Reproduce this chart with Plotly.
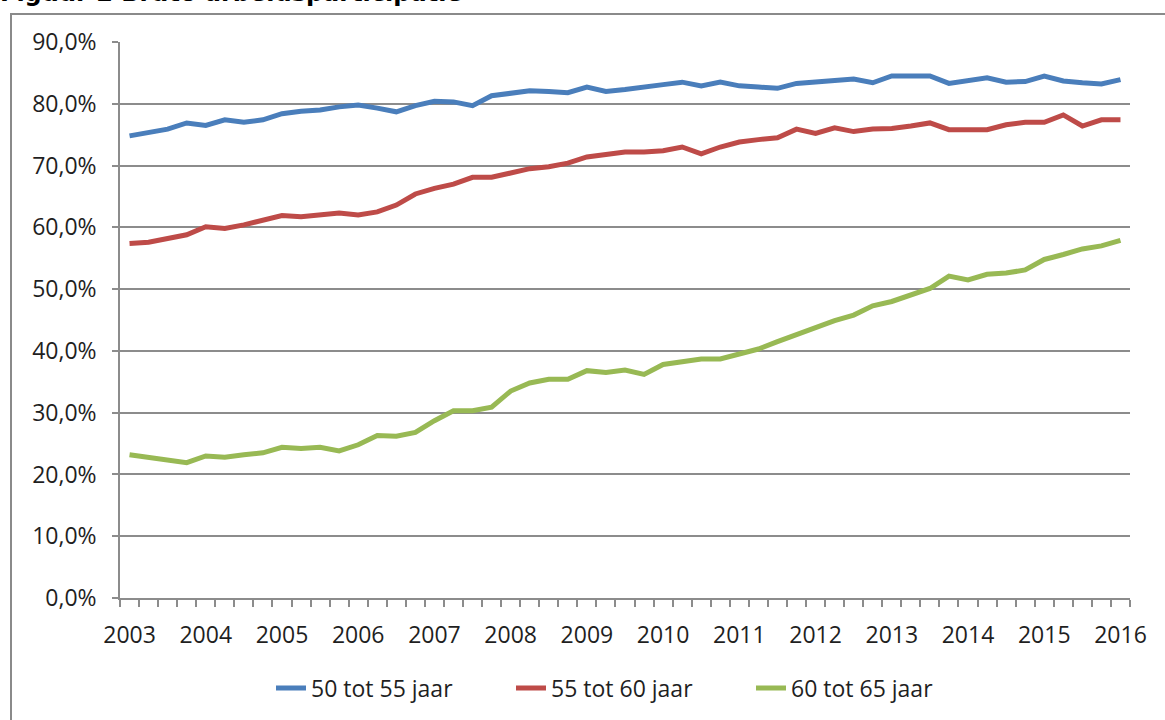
import plotly.graph_objects as go

# Quarterly observations 2003 Q1 .. 2016 Q1
years = list(range(2003, 2017))
quarter_x = [y + (q - 1) / 4 for y in years for q in range(1, 5)][:53]
year_ticks = years
year_labels = [str(y) for y in years]

series_names = ["50 tot 55 jaar", "55 tot 60 jaar", "60 tot 65 jaar"]

age_50_55 = [74.8, 75.3, 75.9, 76.9, 76.5, 77.4, 77.0, 77.4, 78.4, 78.8, 79.0, 79.5, 79.8,
             79.3, 78.7, 79.7, 80.4, 80.3, 79.7, 81.3, 81.6, 82.1, 82.0, 81.8, 82.7, 82.0,
             82.3, 82.8, 83.1, 83.5, 82.9, 83.5, 82.9, 82.7, 82.5, 83.3, 83.5, 83.8, 84.0,
             83.4, 84.5, 84.5, 84.5, 83.3, 83.8, 84.2, 83.5, 83.6, 84.5, 83.7, 83.4, 83.2,
             83.9]
age_55_60 = [57.4, 57.6, 58.2, 58.8, 60.1, 59.8, 60.4, 61.2, 61.9, 61.7, 62.1, 62.3, 62.0,
             62.5, 63.6, 65.4, 66.3, 67.0, 68.1, 68.1, 68.8, 69.5, 69.8, 70.4, 71.4, 71.9,
             72.2, 72.2, 72.4, 73.0, 71.9, 73.0, 73.8, 74.2, 74.5, 75.9, 75.2, 76.1, 75.5,
             75.9, 76.0, 76.4, 76.9, 75.8, 75.8, 75.8, 76.6, 77.0, 77.0, 78.2, 76.4, 77.4,
             77.4]
age_60_65 = [23.2, 22.8, 22.2, 21.9, 23.0, 22.8, 23.2, 23.5, 24.4, 24.2, 24.4, 23.8, 24.8,
             26.3, 26.2, 26.8, 28.7, 30.3, 30.3, 30.9, 33.5, 34.8, 35.4, 35.4, 36.8, 36.5,
             36.9, 36.2, 37.8, 38.3, 38.7, 38.7, 39.6, 40.3, 41.5, 42.7, 43.9, 44.9, 45.8,
             47.3, 48.0, 49.1, 50.1, 52.1, 51.5, 52.4, 52.6, 53.1, 54.8, 55.6, 56.5, 57.0,
             57.9]

colors = ["#4A7EBB", "#BE4B48", "#98B954"]
y_ticks = [0, 10, 20, 30, 40, 50, 60, 70, 80, 90]
y_labels = ["0,0%", "10,0%", "20,0%", "30,0%", "40,0%", "50,0%", "60,0%", "70,0%",
            "80,0%", "90,0%"]

FONT = "Open Sans"
FS = 23
TXT = "#1f1f1f"
GRID = "#8C8C8C"

fig = go.Figure()
for name, vals, col in zip(series_names, [age_50_55, age_55_60, age_60_65], colors):
    fig.add_trace(go.Scatter(x=quarter_x, y=vals, name=name, mode="lines",
                             line=dict(color=col, width=5)))

W, H = 1165, 720
L, R, T, B = 120, 35, 42, 122
pw = W - L - R
ph = H - T - B

def px_x(p):
    return (p - L) / pw

def px_y(p):
    return (H - B - p) / ph

fig.update_layout(
    width=W, height=H,
    margin=dict(l=L, r=R, t=T, b=B, autoexpand=False),
    paper_bgcolor="white", plot_bgcolor="white",
    font=dict(family=FONT, size=FS, color=TXT),
    showlegend=True,
    legend=dict(orientation="h", x=px_x(271), xanchor="left",
                y=px_y(688), yanchor="middle",
                font=dict(family=FONT, size=FS, color=TXT),
                entrywidth=195, tracegroupgap=0, bgcolor="rgba(0,0,0,0)"),
    xaxis=dict(range=[2002.875, 2016.125], tickmode="array",
               tickvals=year_ticks, ticktext=year_labels,
               ticks="", showgrid=False, zeroline=False,
               showline=True, linecolor=GRID, linewidth=1.5,
               ticklabelstandoff=16,
               tickfont=dict(family=FONT, size=FS, color=TXT),
               minor=dict(tickmode="array",
                          tickvals=[2002.875 + 0.25 * k for k in range(54)],
                          ticks="outside", ticklen=7, tickwidth=1.5,
                          tickcolor=GRID, showgrid=False)),
    yaxis=dict(range=[0, 90], tickmode="array", tickvals=y_ticks, ticktext=y_labels,
               ticks="outside", ticklen=6, tickwidth=1.5, tickcolor=GRID,
               ticklabelstandoff=11,
               showgrid=True, gridcolor=GRID, gridwidth=1.5,
               zeroline=False, showline=True, linecolor=GRID, linewidth=1.5,
               tickfont=dict(family=FONT, size=FS, color=TXT)),
)

# chart border (extends beyond the visible page on right and bottom)
fig.add_shape(type="rect", xref="paper", yref="paper",
              x0=px_x(11), x1=px_x(1200), y0=px_y(760), y1=px_y(14),
              line=dict(color="#8A8A8A", width=2), fillcolor="rgba(0,0,0,0)",
              layer="below")

# figure caption, cut off at the top of the page
fig.add_annotation(text="<b>Figuur 2 Bruto arbeidsparticipatie</b>",
                   xref="paper", yref="paper", x=px_x(-2), y=px_y(-6.5),
                   xanchor="left", yanchor="middle", showarrow=False,
                   font=dict(family="DejaVu Sans", size=24, color="#000000"))

fig.write_html("out.html",
               config={"displayModeBar": False},
               post_script="document.body.style.margin='0';"
                           "document.body.style.padding='0';")
